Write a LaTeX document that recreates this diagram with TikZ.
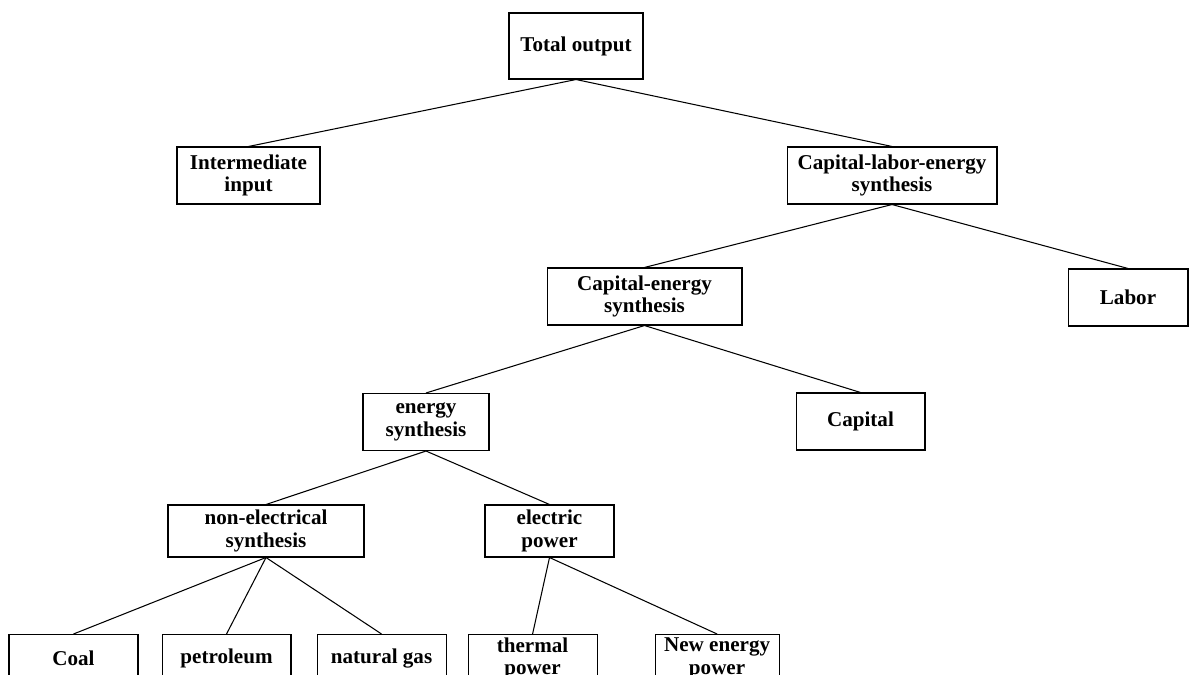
\documentclass[tikz,border=0pt]{standalone}
\usepackage{fontspec}
\setmainfont{Liberation Serif}
\usetikzlibrary{positioning}

\begin{document}
\begin{tikzpicture}[
    x=0.02cm, y=-0.02cm,
    level/.style={draw, line width=0.6pt, align=center, inner sep=0pt, font=\bfseries\fontsize{12}{12.8}\selectfont, minimum height=1.14cm},
    leaf/.style={level, minimum width=2.58cm, minimum height=0.96cm},
    link/.style={line width=0.6pt}
]
\useasboundingbox (0,0) rectangle (1192,675);
\clip (0,0) rectangle (1192,675);

\node[level, minimum width=2.68cm, minimum height=1.32cm] (total) at (576,46) {Total output};
\node[level, minimum width=2.86cm] (inter) at (248.5,175.5) {Intermediate\\input};
\node[level, minimum width=4.2cm] (cle) at (892,175.5) {Capital-labor-energy\\synthesis};
\node[level, minimum width=3.9cm] (ce) at (644.5,296.5) {Capital-energy\\synthesis};
\node[level, minimum width=2.4cm] (labor) at (1128,297.5) {Labor};
\node[level, minimum width=2.52cm] (energy) at (426,422) {energy\\synthesis};
\node[level, minimum width=2.58cm] (capital) at (860.5,421.5) {Capital};
\node[level, minimum width=3.92cm, minimum height=1.04cm] (nonel) at (266,531) {non-electrical\\synthesis};
\node[level, minimum width=2.58cm, minimum height=1.04cm] (elec) at (549.5,531) {electric\\power};

\node[leaf, anchor=north] (coal) at (73.5,634) {Coal};
\node[leaf, right=0.46cm of coal] (petro) {petroleum};
\node[leaf, right=0.5cm of petro] (gas) {natural gas};
\node[leaf, right=0.42cm of gas] (thermal) {thermal\\power};
\node[leaf, minimum width=2.48cm, right=1.14cm of thermal] (newen) {New energy\\power};

\draw[link] (total.south) -- (inter.north);
\draw[link] (total.south) -- (cle.north);
\draw[link] (cle.south) -- (ce.north);
\draw[link] (cle.south) -- (labor.north);
\draw[link] (ce.south) -- (energy.north);
\draw[link] (ce.south) -- (capital.north);
\draw[link] (energy.south) -- (nonel.north);
\draw[link] (energy.south) -- (elec.north);

\draw[link] (nonel.south) -- (coal.north);
\draw[link] (nonel.south) -- (petro.north);
\draw[link] (nonel.south) -- (gas.north);
\draw[link] (elec.south) -- (thermal.north);
\draw[link] (elec.south) -- (newen.north);
\end{tikzpicture}
\end{document}
